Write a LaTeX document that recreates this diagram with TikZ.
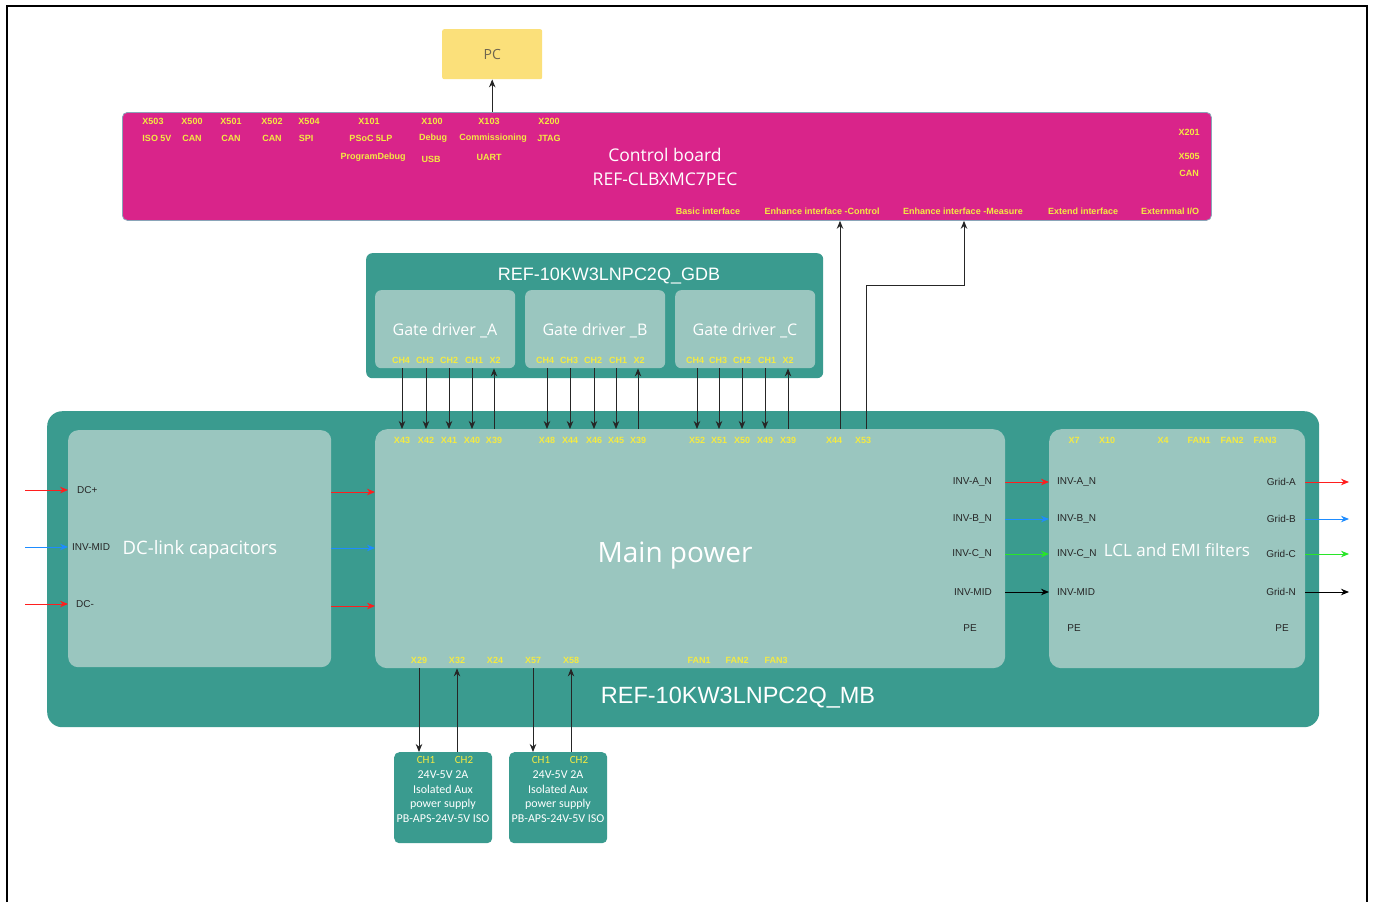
\documentclass[tikz,border=0pt]{standalone}
\usepackage{fontspec}
\setmainfont{Liberation Sans}
\newfontfamily\osf{Open Sans}
\newfontfamily\calf{Carlito}
\usetikzlibrary{arrows.meta,calc}
\definecolor{tealA}{HTML}{3A9B8F}
\definecolor{tealB}{HTML}{9AC6BF}
\definecolor{magB}{HTML}{D9248A}
\definecolor{yelL}{HTML}{F4EA42}
\definecolor{pcY}{HTML}{FBE07A}
\definecolor{pcT}{HTML}{6E6650}
\definecolor{redA}{HTML}{FF1E1E}
\definecolor{bluA}{HTML}{1E8CFF}
\definecolor{grnA}{HTML}{28E628}
\definecolor{cbEdge}{HTML}{8AA4B8}
\tikzset{
  lab/.style={font=\bfseries\fontsize{9}{10}\selectfont, text=yelL, inner sep=0pt},
  blab/.style={font=\fontsize{10}{11}\selectfont, text=black!85, inner sep=0pt},
  bigtxt/.style={font=\osf\fontsize{18}{20}\selectfont, text=white, inner sep=0pt},
  box/.style={anchor=north west, inner sep=0pt, draw=none},
  conn/.style={draw=black!85, line width=0.9pt, -{Stealth[length=8pt,width=6.5pt]}},
  carrow/.style={line width=0.9pt, -{Stealth[length=8pt,width=6.5pt]}},
  pstxt/.style={font=\calf\fontsize{12}{14.5}\selectfont, text=white, align=center, inner sep=0pt},
}
\begin{document}
\begin{tikzpicture}[x=1pt,y=-1pt]
\useasboundingbox (0,0) rectangle (1373,902);
% outer frame
\draw[line width=1.8pt] (7,902) -- (7,6) -- (1367,6) -- (1367,902);

% PC
\node[box, fill=pcY, rounded corners=2pt, minimum width=100pt, minimum height=50pt] (pc) at (442,29) {};
\node[font=\osf\fontsize{14}{16}\selectfont, text=pcT] (pct) at (pc.center) {PC};

% Control board
\node[box, fill=magB, draw=cbEdge, line width=0.8pt, rounded corners=5pt, minimum width=1089pt, minimum height=108pt] (cb) at (122,112) {};
\node[bigtxt, font=\osf\fontsize{17.5}{20}\selectfont] (cbt1) at (665,155) {Control board};
\node[bigtxt, font=\osf\fontsize{17.5}{20}\selectfont] (cbt2) at (665,179) {REF-CLBXMC7PEC};
\foreach \x/\t in {153/X503,192/X500,231/X501,272/X502,309/X504,369/X101,432/X100,489/X103,549/X200}
  \node[lab] at (\x,121) {\t};
\foreach \x/\t in {157/ISO 5V,192/CAN,231/CAN,272/CAN,306/SPI,371/PSoC 5LP,433/Debug,493/Commissioning,549/JTAG}
  \node[lab] at (\x,138) {\t};
\node[lab] at (373,157) {ProgramDebug};
\node[lab] at (431,159) {USB};
\node[lab] at (489,157) {UART};
\node[lab] at (1189,132) {X201};
\node[lab] at (1189,156) {X505};
\node[lab] at (1189,173) {CAN};
\node[lab] (bi) at (708,211) {Basic interface};
\node[lab] (eic) at (822,211) {Enhance interface -Control};
\node[lab] (eim) at (963,211) {Enhance interface -Measure};
\node[lab] (ei) at (1083,211) {Extend interface};
\node[lab] (eio) at (1170,211) {Externmal I/O};

% GDB
\node[box, fill=tealA, rounded corners=6pt, minimum width=457pt, minimum height=125pt] (gdb) at (366,253) {};
\node[font=\fontsize{18}{20}\selectfont, text=white, inner sep=0pt] (gdbt) at (609,276) {REF-10KW3LNPC2Q\_GDB};
\node[box, fill=tealB, rounded corners=6pt, minimum width=140pt, minimum height=78pt] (gA) at (375,290) {};
\node[box, fill=tealB, rounded corners=6pt, minimum width=140pt, minimum height=78pt] (gB) at (525,290) {};
\node[box, fill=tealB, rounded corners=6pt, minimum width=140pt, minimum height=78pt] (gC) at (675,290) {};
\node[bigtxt, font=\osf\fontsize{16}{18}\selectfont] at (445,331) {Gate driver \_A};
\node[bigtxt, font=\osf\fontsize{16}{18}\selectfont] at (595,331) {Gate driver \_B};
\node[bigtxt, font=\osf\fontsize{16}{18}\selectfont] at (745,331) {Gate driver \_C};
\foreach \x/\t in {401/CH4,425/CH3,449/CH2,474/CH1,495/X2,545/CH4,569/CH3,593/CH2,618/CH1,639/X2,695/CH4,718/CH3,742/CH2,767/CH1,788/X2}
  \node[lab] at (\x,360) {\t};

% MB
\node[box, fill=tealA, rounded corners=15pt, minimum width=1272pt, minimum height=316pt] (mb) at (47,411) {};
\node[font=\fontsize{23.5}{26}\selectfont, text=white, inner sep=0pt] (mbt) at (738,698) {REF-10KW3LNPC2Q\_MB};

% DC-link
\node[box, fill=tealB, rounded corners=10pt, minimum width=263pt, minimum height=237pt] (dc) at (68,430) {};
\node[bigtxt, font=\osf\fontsize{18.5}{20}\selectfont] at (200,550) {DC-link capacitors};
\node[blab, anchor=west] (dcp) at (77,490) {DC+};
\node[blab, anchor=west] (dcm) at (72,547) {INV-MID};
\node[blab, anchor=west] (dcn) at (76,604) {DC-};

% Main power
\node[box, fill=tealB, rounded corners=12pt, minimum width=630pt, minimum height=239pt] (main) at (375,429) {};
\node[bigtxt, font=\osf\fontsize{28}{30}\selectfont] at (675,556) {Main power};
\foreach \x/\t/\n in {402/X43/m43,426/X42/m42,449/X41/m41,472/X40/m40,494/X39/m39a,
                      547/X48/m48,570/X44/m44a,594/X46/m46,616/X45/m45,638/X39/m39b,
                      697/X52/m52,719/X51/m51,742/X50/m50,765/X49/m49,788/X39/m39c,
                      834/X44/m44,863/X53/m53}
  \node[lab] (\n) at (\x,440) {\t};
\node[blab, anchor=east] (mA) at (992,482) {INV-A\_N};
\node[blab, anchor=east] (mB) at (992,519) {INV-B\_N};
\node[blab, anchor=east] (mC) at (992,554) {INV-C\_N};
\node[blab, anchor=east] (mM) at (992,592) {INV-MID};
\node[blab] (mPE) at (970,628) {PE};
\foreach \x/\t/\n in {419/X29/m29,457/X32/m32,495/X24/m24,533/X57/m57,571/X58/m58,699/FAN1/mf1,737/FAN2/mf2,776/FAN3/mf3}
  \node[lab] (\n) at (\x,660) {\t};

% LCL
\node[box, fill=tealB, rounded corners=12pt, minimum width=256pt, minimum height=239pt] (lcl) at (1049,429) {};
\node[bigtxt, font=\osf\fontsize{17}{20}\selectfont] at (1177,550) {LCL and EMI filters};
\foreach \x/\t in {1074/X7,1107/X10,1163/X4,1199/FAN1,1232/FAN2,1265/FAN3}
  \node[lab] at (\x,440) {\t};
\node[blab, anchor=west] (lA) at (1057,482) {INV-A\_N};
\node[blab, anchor=west] (lB) at (1057,519) {INV-B\_N};
\node[blab, anchor=west] (lC) at (1057,554) {INV-C\_N};
\node[blab, anchor=west] (lM) at (1057,592) {INV-MID};
\node[blab] (lPE) at (1074,628) {PE};
\node[blab, anchor=east] (gA1) at (1296,482) {Grid-A};
\node[blab, anchor=east] (gB1) at (1296,519) {Grid-B};
\node[blab, anchor=east] (gC1) at (1296,554) {Grid-C};
\node[blab, anchor=east] (gN1) at (1296,592) {Grid-N};
\node[blab] (gPE) at (1282,628) {PE};

% Power supplies
\node[box, fill=tealA, rounded corners=5pt, minimum width=98pt, minimum height=91pt] (ps1) at (394,752) {};
\node[box, fill=tealA, rounded corners=5pt, minimum width=98pt, minimum height=91pt] (ps2) at (509,752) {};
\node[lab, font=\calf\fontsize{11}{12}\selectfont] at (426,760) {CH1};
\node[lab, font=\calf\fontsize{11}{12}\selectfont] at (464,760) {CH2};
\node[lab, font=\calf\fontsize{11}{12}\selectfont] at (541,760) {CH1};
\node[lab, font=\calf\fontsize{11}{12}\selectfont] at (579,760) {CH2};
\node[pstxt, anchor=north] at (443,771) {24V-5V 2A\\Isolated Aux\\power supply\\PB-APS-24V-5V ISO};
\node[pstxt, anchor=north] at (558,771) {24V-5V 2A\\Isolated Aux\\power supply\\PB-APS-24V-5V ISO};

% free-end coordinates
\coordinate (inP) at (25,490);
\coordinate (inM) at (25,547);
\coordinate (inN) at (25,604);
\coordinate (outE) at (1349,0);
\coordinate (bend) at (964,285);
\coordinate (x44) at (840,0);
\coordinate (x53) at (866,0);

% connectors
\draw[conn] (pc |- cb.north) -- (pc.south);
\foreach \n in {m43,m42,m41,m40} \draw[conn] (\n |- gA.south) -- (\n |- main.north);
\foreach \n in {m48,m44a,m46,m45} \draw[conn] (\n |- gB.south) -- (\n |- main.north);
\foreach \n in {m52,m51,m50,m49} \draw[conn] (\n |- gC.south) -- (\n |- main.north);
\draw[conn] (m39a |- main.north) -- (m39a |- gA.south);
\draw[conn] (m39b |- main.north) -- (m39b |- gB.south);
\draw[conn] (m39c |- main.north) -- (m39c |- gC.south);
\draw[conn] (x44 |- main.north) -- (x44 |- cb.south);
\draw[conn] (x53 |- main.north) |- (bend) -- (bend |- cb.south);

\draw[carrow, redA] (inP) -- (dc.west |- dcp);
\draw[carrow, bluA] (inM) -- (dc.west |- dcm);
\draw[carrow, redA] (inN) -- (dc.west |- dcn);
\draw[carrow, redA] ([yshift=-2pt]dc.east |- dcp) -- ([yshift=-2pt]main.west |- dcp);
\draw[carrow, bluA] ([yshift=-1pt]dc.east |- dcm) -- ([yshift=-1pt]main.west |- dcm);
\draw[carrow, redA] ([yshift=-2pt]dc.east |- dcn) -- ([yshift=-2pt]main.west |- dcn);

\draw[carrow, redA] (main.east |- mA) -- (lcl.west |- mA);
\draw[carrow, bluA] (main.east |- mB) -- (lcl.west |- mB);
\draw[carrow, grnA] (main.east |- mC) -- (lcl.west |- mC);
\draw[carrow, black] (main.east |- mM) -- (lcl.west |- mM);
\draw[carrow, redA] (lcl.east |- gA1) -- (outE |- gA1);
\draw[carrow, bluA] (lcl.east |- gB1) -- (outE |- gB1);
\draw[carrow, grnA] (lcl.east |- gC1) -- (outE |- gC1);
\draw[carrow, black] (lcl.east |- gN1) -- (outE |- gN1);

\draw[conn] (m29 |- main.south) -- (m29 |- ps1.north);
\draw[conn] (m32 |- ps1.north) -- (m32 |- main.south);
\draw[conn] (m57 |- main.south) -- (m57 |- ps2.north);
\draw[conn] (m58 |- ps2.north) -- (m58 |- main.south);
\end{tikzpicture}
\end{document}
